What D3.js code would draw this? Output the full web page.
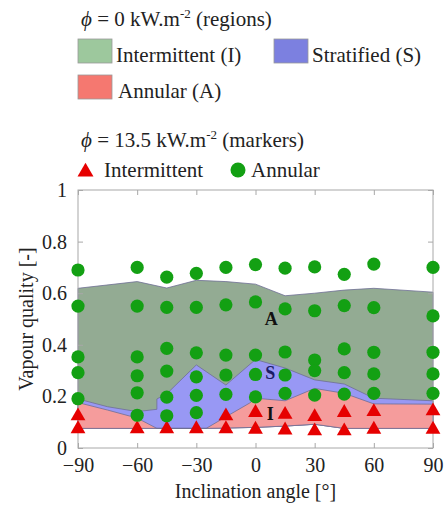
<!DOCTYPE html>
<html><head><meta charset="utf-8">
<script src="https://cdn.jsdelivr.net/npm/d3@7"></script>
<style>body{margin:0;background:#fff}svg{display:block}text{font-family:"Liberation Serif","Times New Roman",serif}</style>
</head><body><svg id="c" width="448" height="506"></svg>
<script>
// ---- data ----
const angles = [-90, -60, -45, -30, -15, 0, 15, 30, 45, 60, 90];
const xTicks = [-90, -60, -30, 0, 30, 60, 90];
const yTicks = [0, 0.2, 0.4, 0.6, 0.8, 1];
// phi = 13.5 markers: annular (circles) and intermittent (triangles), per angle
const annularQ = [
  [0.690, 0.550, 0.353, 0.292, 0.191],
  [0.700, 0.550, 0.353, 0.280, 0.214, 0.127],
  [0.662, 0.545, 0.386, 0.298, 0.197, 0.125],
  [0.677, 0.545, 0.369, 0.276, 0.204, 0.137],
  [0.700, 0.555, 0.360, 0.283, 0.208],
  [0.711, 0.566, 0.360, 0.285, 0.198],
  [0.697, 0.539, 0.372, 0.283, 0.212],
  [0.702, 0.532, 0.341, 0.300, 0.205],
  [0.673, 0.552, 0.384, 0.292, 0.209],
  [0.713, 0.544, 0.371, 0.287, 0.212],
  [0.700, 0.512, 0.371, 0.287, 0.212]
];
const intermittentQ = [
  [0.128, 0.078],
  [0.078],
  [0.078],
  [0.078],
  [0.128, 0.078],
  [0.141, 0.076],
  [0.134, 0.073],
  [0.125, 0.070],
  [0.141, 0.070],
  [0.144, 0.076],
  [0.147, 0.076]
];
// phi = 0 regions: boundary lines [angle, quality]
const bottomLine = [[-90,0.076],[-25,0.076],[0,0.080],[15,0.085],[30,0.092],[45,0.076],[90,0.076]];
const redTopLine = [[-90,0.176],[-75,0.147],[-60,0.116],[-50,0.076],[-25,0.076],[-15,0.121],[-3,0.174],[0,0.193],[15,0.183],[30,0.231],[45,0.212],[60,0.171],[90,0.170]];
const blueTopLine = [[-90,0.190],[-75,0.160],[-60,0.141],[-50,0.150],[-50,0.190],[-45,0.210],[-30,0.322],[-15,0.244],[0,0.343],[15,0.310],[30,0.264],[45,0.248],[60,0.193],[90,0.183]];
const greenTopLine = [[-90,0.619],[-60,0.645],[-45,0.620],[-30,0.650],[-15,0.645],[0,0.635],[15,0.590],[30,0.600],[45,0.612],[60,0.619],[90,0.604]];
const regionLabels = [["A", 8, 0.477], ["S", 7.5, 0.267], ["I", 7.5, 0.109]];

// ---- drawing ----
const svg = d3.select("#c");
const x = d3.scaleLinear().domain([-90, 90]).range([78, 433]);
const y = d3.scaleLinear().domain([0, 1]).range([448, 190]);
const line = d3.line().x(d => x(d[0])).y(d => y(d[1]));

function regionPath(top) {
  const pts = top.concat(bottomLine.slice().reverse());
  return line(pts) + "Z";
}
const regions = [
  [greenTopLine, "#93ab93"],
  [blueTopLine, "#9898f4"],
  [redTopLine, "#f59c9c"]
];
regions.forEach(([top, col]) => {
  svg.append("path").attr("d", regionPath(top)).attr("fill", col)
    .attr("stroke", "#6e6e94").attr("stroke-width", 0.8);
});

// axes box
const axCol = "#a8a8a8";
svg.append("rect").attr("x", x(-90)).attr("y", y(1)).attr("width", x(90) - x(-90)).attr("height", y(0) - y(1))
  .attr("fill", "none").attr("stroke", axCol).attr("stroke-width", 1);
const xB = svg.append("g").attr("transform", `translate(0,${y(0)})`)
  .call(d3.axisBottom(x).tickValues(xTicks).tickSizeInner(-5).tickSizeOuter(0).tickPadding(9).tickFormat(d3.format("d")));
const xT = svg.append("g").attr("transform", `translate(0,${y(1)})`)
  .call(d3.axisTop(x).tickValues(xTicks).tickSizeInner(-5).tickSizeOuter(0).tickFormat(""));
const yL = svg.append("g").attr("transform", `translate(${x(-90)},0)`)
  .call(d3.axisLeft(y).tickValues(yTicks).tickSizeInner(-5).tickSizeOuter(0).tickPadding(11).tickFormat(d3.format("")));
const yR = svg.append("g").attr("transform", `translate(${x(90)},0)`)
  .call(d3.axisRight(y).tickValues(yTicks).tickSizeInner(-5).tickSizeOuter(0).tickFormat(""));
[xB, xT, yL, yR].forEach(g => {
  g.select(".domain").remove();
  g.selectAll("line").attr("stroke", axCol);
  g.selectAll("text").attr("font-size", 20).attr("fill", "#222")
    .attr("font-family", "'Liberation Serif',serif");
});
xB.selectAll("text").attr("dy", "0.75em");

// markers
const tri = d3.symbol().type(d3.symbolTriangle).size(95);
angles.forEach((a, i) => {
  intermittentQ[i].forEach(q => {
    svg.append("path").attr("d", tri).attr("transform", `translate(${x(a)},${y(q) + 1})`).attr("fill", "#e60000");
  });
  annularQ[i].forEach(q => {
    svg.append("circle").attr("cx", x(a)).attr("cy", y(q)).attr("r", 6.6).attr("fill", "#13a013");
  });
});

// region labels
regionLabels.forEach(([t, a, q]) => {
  svg.append("text").attr("x", x(a)).attr("y", y(q)).attr("text-anchor", "middle")
    .attr("font-size", 18).attr("font-weight", "bold").attr("fill", t === "S" ? "#1c1c66" : "#111").text(t);
});

// axis titles
svg.append("text").attr("x", (x(-90) + x(90)) / 2).attr("y", 498).attr("text-anchor", "middle")
  .attr("font-size", 20).attr("fill", "#222").text("Inclination angle [°]");
svg.append("text").attr("transform", `translate(33,${(y(0) + y(1)) / 2}) rotate(-90)`).attr("text-anchor", "middle")
  .attr("font-size", 20).attr("fill", "#222").text("Vapour quality [-]");

// legend
function title(yy, val, rest) {
  const t = svg.append("text").attr("x", 81).attr("y", yy).attr("font-size", 21).attr("fill", "#222");
  t.append("tspan").attr("font-style", "italic").text("ϕ");
  t.append("tspan").text(" = " + val + " kW.m");
  t.append("tspan").attr("font-size", 13).attr("dy", -8).text("-2");
  t.append("tspan").attr("dy", 8).text(" " + rest);
}
title(26, "0", "(regions)");
title(147, "13.5", "(markers)");
const legItems = [
  ["Intermittent (I)", "#9dc89d", 78, 39, 116],
  ["Stratified (S)", "#7c80e0", 274, 39, 312],
  ["Annular (A)", "#f57870", 78, 75, 118]
];
legItems.forEach(([lab, col, px, py, tx]) => {
  svg.append("rect").attr("x", px).attr("y", py).attr("width", 34).attr("height", 24)
    .attr("fill", col).attr("stroke", "#9a9a9a").attr("stroke-width", 0.8);
  svg.append("text").attr("x", tx).attr("y", py + 23).attr("font-size", 21).attr("fill", "#222").text(lab);
});
svg.append("path").attr("d", d3.symbol().type(d3.symbolTriangle).size(110)).attr("transform", "translate(85.5,172)").attr("fill", "#e60000");
svg.append("text").attr("x", 104).attr("y", 177).attr("font-size", 21).attr("fill", "#222").text("Intermittent");
svg.append("circle").attr("cx", 238).attr("cy", 170).attr("r", 7.5).attr("fill", "#13a013");
svg.append("text").attr("x", 251).attr("y", 177).attr("font-size", 21).attr("fill", "#222").text("Annular");
</script></body></html>
